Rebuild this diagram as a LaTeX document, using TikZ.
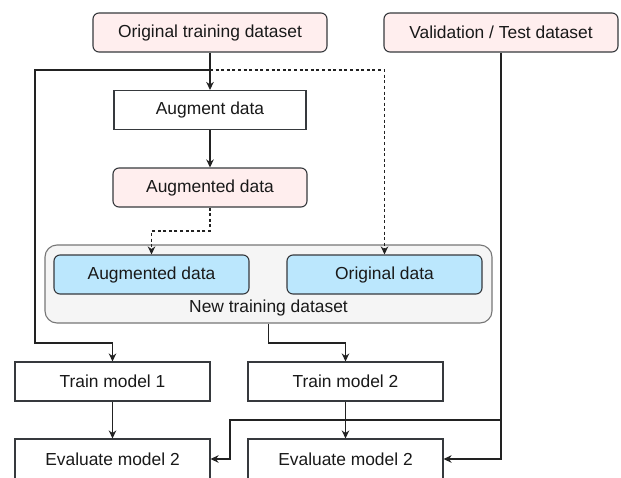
\documentclass[tikz,border=0pt]{standalone}
\usepackage{fontspec}
\setmainfont{Liberation Sans}
\usetikzlibrary{arrows.meta}
\definecolor{pinkfill}{HTML}{FFEEEE}
\definecolor{bluefill}{HTML}{BBE7FD}
\definecolor{grpfill}{HTML}{F5F5F5}
\definecolor{grpline}{HTML}{777777}
\definecolor{boxline}{HTML}{36393D}
\definecolor{lnk}{HTML}{222222}
\tikzset{
  base/.style={draw=boxline, line width=1.1pt, minimum width=195pt, minimum height=39pt, inner sep=0pt,
    font=\fontsize{17.4}{21}\selectfont, text=black!90},
  plainbox/.style={base, fill=white},
  pinkbox/.style={base, fill=pinkfill, rounded corners=6pt},
  bluebox/.style={base, fill=bluefill, rounded corners=6pt},
  groupbox/.style={draw=grpline, line width=1.1pt, fill=grpfill, rounded corners=12pt, minimum width=447pt, minimum height=78pt, inner sep=0pt},
  arr/.style={draw=lnk, line width=1.2pt, -{Stealth[length=8pt,width=7.5pt,inset=2.5pt]}},
  dotline/.style={dash pattern=on 3pt off 2.6pt},
}
\begin{document}
\begin{tikzpicture}[x=1pt,y=-1pt]
\useasboundingbox (0,0) rectangle (621,477);
\fill[white] (0,0) rectangle (621,477);
% top sources
\node[pinkbox, minimum width=234pt] (orig) at (210,32.5) {Original training dataset};
\node[pinkbox, minimum width=234pt] (val) at (501,32.5) {Validation / Test dataset};
% augmentation
\node[plainbox, minimum width=192pt] (aug) at (210,110) {Augment data};
\node[pinkbox, minimum width=194pt] (augd) at (210,187.5) {Augmented data};
% group
\node[groupbox] (grp) at (268.5,284) {};
\node[bluebox] (baug) at (151.5,274.5) {Augmented data};
\node[bluebox] (borig) at (384.5,274.5) {Original data};
\node[font=\fontsize{17.4}{21}\selectfont, text=black!90, inner sep=0pt] (grplbl) at (268.5,308) {New training dataset};
% models
\node[plainbox] (tm1) at (112.5,381.5) {Train model 1};
\node[plainbox] (tm2) at (345.5,381.5) {Train model 2};
\node[plainbox, minimum height=40pt] (ev1) at (112.5,459) {Evaluate model 2};
\node[plainbox, minimum height=40pt] (ev2) at (345.5,459) {Evaluate model 2};
% junctions
\coordinate (j1) at (210,70);
\coordinate (jl) at (35,343);
\coordinate (jd) at (210,231);
\coordinate (jg) at (268.5,343);
\coordinate (jv) at (501,420);
\coordinate (jb) at (230,459);
% connectors
\draw[arr] (orig.south) -- (aug.north);
\draw[arr] (j1) -| (jl) -| (tm1.north);
\draw[arr, dotline] (j1) -| (borig.north);
\draw[arr] (aug.south) -- (augd.north);
\draw[arr, dotline] (augd.south) -- (jd) -| (baug.north);
\draw[arr] (grp.south) -- (jg) -| (tm2.north);
\draw[arr] (tm1.south) -- (ev1.north);
\draw[arr] (tm2.south) -- (ev2.north);
\draw[arr] (val.south) |- (ev2.east);
\draw[arr] (jv) -| (jb) -- (ev1.east);
\end{tikzpicture}
\end{document}
